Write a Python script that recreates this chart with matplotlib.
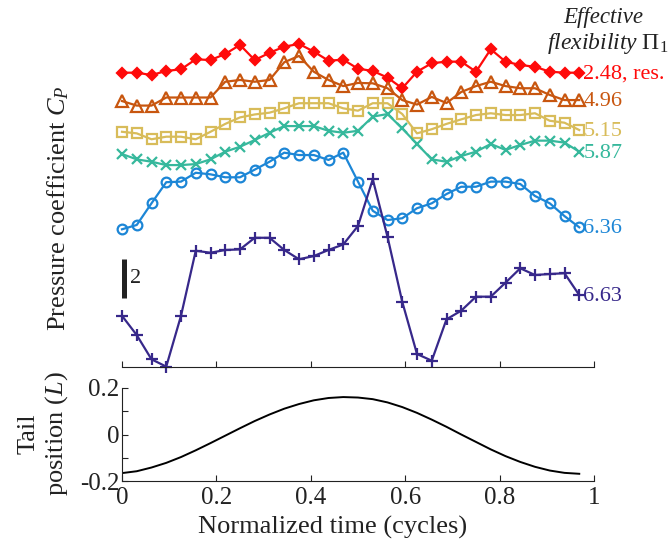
import matplotlib.pyplot as plt
import numpy as np

plt.rcParams['font.family'] = ['Liberation Serif', 'DejaVu Serif']
plt.rcParams['mathtext.fontset'] = 'custom'
plt.rcParams['mathtext.rm'] = 'Liberation Serif'
plt.rcParams['mathtext.it'] = 'Liberation Serif:italic'
plt.rcParams['mathtext.bf'] = 'Liberation Serif:bold'

# 32 samples per flapping cycle
t = np.arange(32) / 32

flex_labels = ['2.48, res.', '4.96', '5.15', '5.87', '6.36', '6.63']

cp_248 = [-0.06, -0.06, -0.18, 0.03, 0.11, 0.62, 0.58, 0.89, 1.35, 0.58, 0.95, 1.26, 1.40, 1.01, 0.55, 0.60,
          0.14, 0.03, -0.31, -0.85, -0.01, 0.42, 0.50, 0.50, -0.01, 1.13, 0.50, 0.33, 0.24, -0.01, -0.06, -0.06]
cp_496 = [0.00, -0.23, -0.23, 0.18, 0.18, 0.18, 0.18, 0.98, 1.07, 0.98, 1.07, 1.97, 2.29, 1.49, 1.07, 0.76,
          0.92, 0.90, 0.65, 0.05, -0.18, 0.21, -0.10, 0.46, 0.76, 0.98, 0.76, 0.65, 0.65, 0.31, 0.05, 0.05]
cp_515 = [-0.06, -0.14, -0.44, -0.31, -0.31, -0.44, -0.06, 0.34, 0.67, 0.82, 0.91, 1.13, 1.39, 1.39, 1.39, 1.13,
          1.01, 1.39, 1.39, 0.84, -0.14, 0.07, 0.34, 0.57, 0.79, 0.88, 0.79, 0.79, 0.88, 0.50, 0.40, 0.03]
cp_587 = [0.31, 0.04, -0.08, -0.25, -0.25, -0.20, 0.04, 0.43, 0.68, 1.02, 1.39, 1.73, 1.73, 1.73, 1.49, 1.39,
          1.49, 2.21, 2.34, 1.61, 0.82, 0.04, -0.08, 0.21, 0.43, 0.82, 0.52, 0.77, 0.99, 0.99, 0.89, 0.43]
cp_636 = [-1.01, -0.79, 0.31, 1.38, 1.41, 1.86, 1.78, 1.63, 1.63, 2.02, 2.42, 2.88, 2.76, 2.76, 2.51, 2.88,
          1.41, -0.07, -0.54, -0.45, 0.06, 0.31, 0.78, 1.15, 1.15, 1.41, 1.41, 1.29, 0.68, 0.31, -0.34, -0.91]
cp_663 = [-1.40, -2.38, -3.61, -3.98, -1.40, 1.90, 1.80, 1.94, 1.97, 2.56, 2.56, 1.94, 1.47, 1.63, 1.94, 2.22,
          3.16, 5.53, 2.61, -0.69, -3.34, -3.68, -1.58, -1.14, -0.43, -0.43, 0.28, 1.01, 0.67, 0.72, 0.76, -0.35]

# tail tip position (body lengths) at the same sample times
tail = [-0.166, -0.158, -0.142, -0.122, -0.097, -0.068, -0.037, -0.005, 0.027, 0.058, 0.086, 0.111, 0.131,
        0.147, 0.157, 0.161, 0.159, 0.152, 0.138, 0.118, 0.093, 0.064, 0.033, 0.000, -0.032, -0.064, -0.093,
        -0.118, -0.139, -0.155, -0.165, -0.169]

series = [cp_248, cp_496, cp_515, cp_587, cp_636, cp_663]
shifts = [15, 13.5, 12, 10.5, 8, 4]
colors = ['#FF0A0A', '#C8560F', '#D8BC5A', '#36B89C', '#1C86D6', '#37288A']
styles = [dict(marker='D', ms=5, mfc='#FF0A0A'),
          dict(marker='^', ms=8, mfc='none'),
          dict(marker='s', ms=6.5, mfc='none'),
          dict(marker='x', ms=6.5),
          dict(marker='o', ms=7, mfc='none'),
          dict(marker='+', ms=9)]

ink = '#222222'
fig = plt.figure(figsize=(6.72, 5.5), dpi=100)

ax = fig.add_axes([122 / 672, 1 - 367 / 550, 472 / 672, 337 / 550])
for vals, dy, c, st, lab in zip(series, shifts, colors, styles, flex_labels):
    y = np.array(vals) + dy
    ax.plot(t, y, color=c, lw=1.6, mew=1.6, mec=c, clip_on=False, **st)
    ax.annotate(lab, (t[-1], y[-1]), xytext=(3, -1), textcoords='offset points',
                color=c, fontsize=16, ha='left', va='center', annotation_clip=False)

ax.set_xlim(0, 1)
ax.set_ylim(0, 337 / 19.7)
for s in ['top', 'right', 'left']:
    ax.spines[s].set_visible(False)
ax.spines['bottom'].set_color(ink)
ax.set_yticks([])
ax.set_xticks([0, 0.2, 0.4, 0.6, 0.8, 1])
ax.tick_params(axis='x', direction='in', length=4, color=ink, labelbottom=False)

# scale bar: 2 units of C_P
ax.plot([0.004, 0.004], [3.5, 5.5], color=ink, lw=3.6, solid_capstyle='butt', clip_on=False)
ax.text(0.018, 4.5, '2', fontsize=16, color=ink, ha='left', va='center')

fig.text(58 / 672, 1 - 208 / 550, 'Pressure coefficient $C_P$', rotation=90,
         fontsize=19, color=ink, ha='center', va='center')
fig.text(603 / 672, 1 - 17 / 550, 'Effective', style='italic', fontsize=16.5, color=ink,
         ha='center', va='center')
fig.text(668 / 672, 1 - 44 / 550, r'$\mathit{flexibility}\ \Pi_1$', fontsize=17, color=ink,
         ha='right', va='center')

bx = fig.add_axes([122 / 672, 1 - 481 / 550, 472 / 672, 93 / 550])
bx.plot(t, tail, color='black', lw=1.4)
bx.set_xlim(0, 1)
bx.set_ylim(-0.2, 0.2)
for s in ['top', 'right']:
    bx.spines[s].set_visible(False)
for s in ['left', 'bottom']:
    bx.spines[s].set_color(ink)
bx.set_xticks([0, 0.2, 0.4, 0.6, 0.8, 1])
bx.set_xticklabels(['0', '0.2', '0.4', '0.6', '0.8', '1'])
bx.set_yticks([-0.2, -0.1, 0, 0.1, 0.2])
bx.set_yticklabels(['-0.2', '', '0', '', '0.2'])
bx.tick_params(direction='in', length=4, color=ink, labelcolor=ink, labelsize=18, pad=2)
bx.tick_params(axis='x', pad=4)

fig.text(333 / 672, 1 - 527 / 550, 'Normalized time (cycles)', fontsize=19, color=ink,
         ha='center', va='center')
fig.text(44 / 672, 1 - 434 / 550, 'Tail\nposition ($L$)', rotation=90, fontsize=19, color=ink,
         linespacing=1.2, ha='center', va='center')

fig.savefig('out.png', dpi=100)
